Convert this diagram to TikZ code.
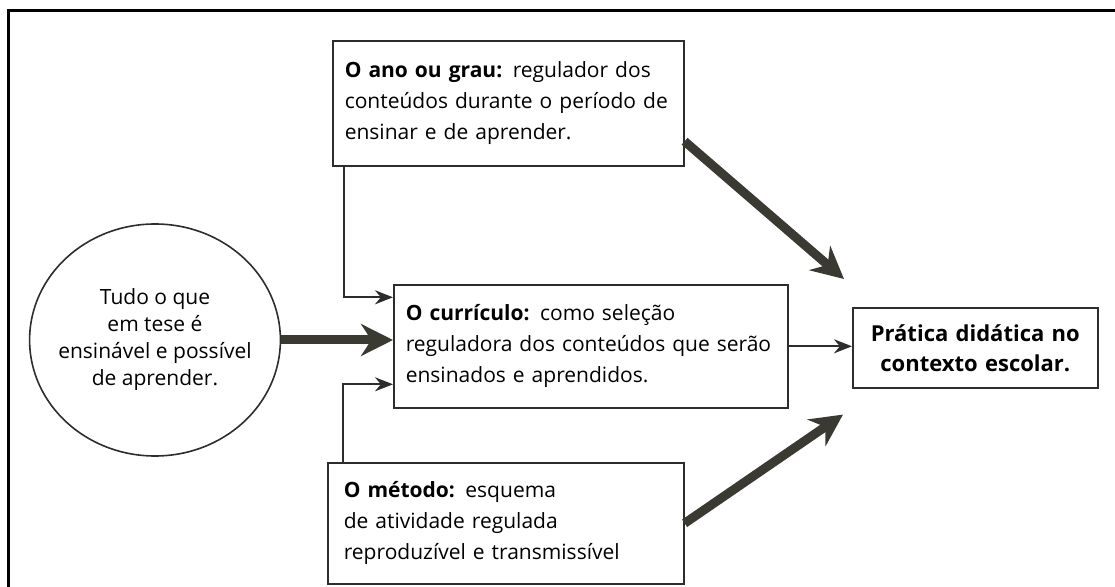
\documentclass[tikz,border=0pt]{standalone}
\usepackage{fontspec}
\setmainfont{Open Sans}
\usetikzlibrary{arrows.meta,shapes.geometric}
\definecolor{seta}{RGB}{58,58,50}
\definecolor{traco}{RGB}{45,45,45}

\begin{document}
\begin{tikzpicture}[x=0.5pt,y=-0.5pt,
    caixa/.style ={rectangle, draw=traco, thick, align=left, anchor=north west,
      inner xsep=6pt, font=\fontsize{10.5}{15.5}\selectfont},
    bola/.style ={ellipse, draw=traco, thick, align=center, inner sep=-4pt,
      minimum width=122pt, minimum height=116pt, font=\fontsize{10.5}{13.5}\selectfont},
    fina/.style ={draw=traco, line width=1pt, -{Stealth[length=9pt,width=7pt]}},
    grossa/.style ={draw=seta, line width=4.5pt, -{Stealth[length=16pt,width=16pt]}}]
   \useasboundingbox (0,0) rectangle (1115,587);
   \draw[line width=1.5pt] (8,587) |- (1115,11);
   \node[bola] (tudo) at (155,340) {Tudo o que\\em tese é\\ensinável e possível\\de aprender.};
   \node[caixa, text width=163.5pt, minimum height=62.5pt] (grau) at (332,40)
     {\textbf{O ano ou grau:} regulador dos\\conteúdos durante o período de\\ensinar e de aprender.};
   \node[caixa, text width=185pt, minimum height=61.5pt] (curriculo) at (393,284)
     {\textbf{O currículo:} como seleção\\reguladora dos conteúdos que serão\\ensinados e aprendidos.};
   \node[caixa, inner xsep=8pt, text width=162pt, minimum height=60.5pt] (metodo) at (327,462)
     {\textbf{O método:} esquema\\de atividade regulada\\reproduzível e transmissível};
   \node[caixa, align=center, text width=110.5pt, minimum height=40pt,
     font=\fontsize{11}{15}\selectfont\bfseries] (pratica) at (852,307)
     {Prática didática no\\contexto escolar.};
   \draw[fina] ([xshift=6pt]grau.south west) |- ([yshift=24.5pt]curriculo.west);
   \draw[fina] ([xshift=8pt]metodo.north west) |- ([yshift=-19pt]curriculo.west);
   \draw[grossa] (tudo.east) to (tudo.east -| curriculo.west);
   \draw[fina] (curriculo.east) to (curriculo.east -| pratica.west);
   \draw[grossa] ([yshift=-19pt]grau.east) to ([xshift=-4pt,yshift=14pt]pratica.north west);
   \draw[grossa] (metodo.east) to ([xshift=-4.5pt,yshift=-13pt]pratica.south west);
\end{tikzpicture}
\end{document}
